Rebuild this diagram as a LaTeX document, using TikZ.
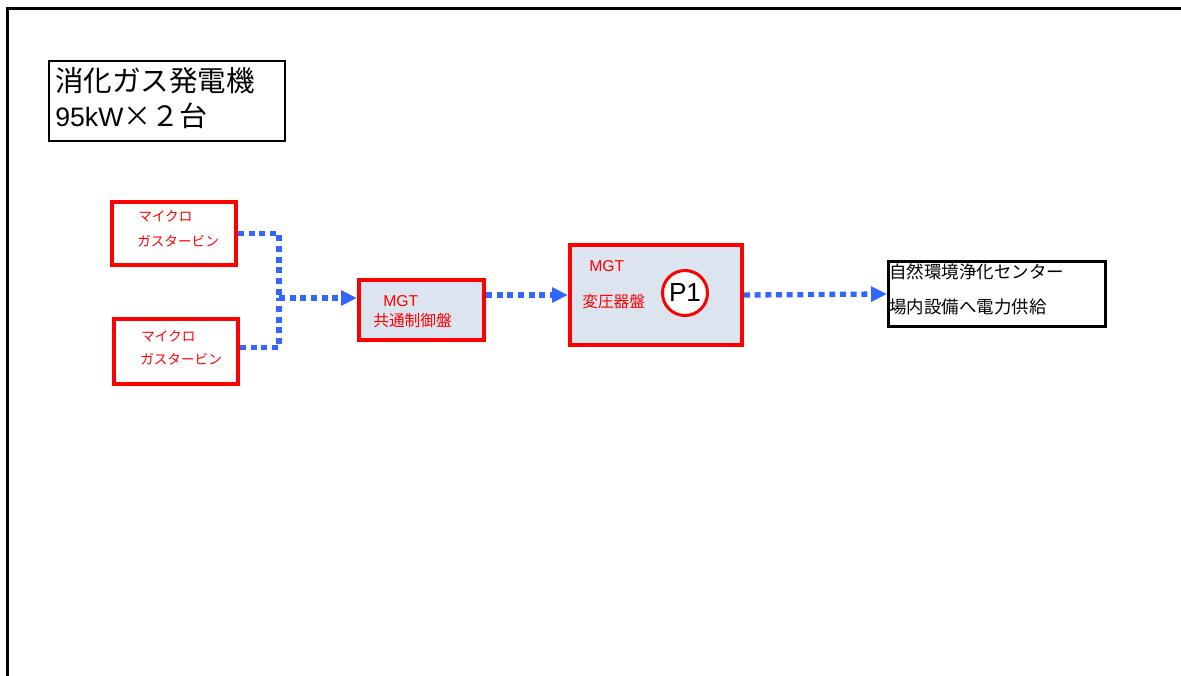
\documentclass[tikz,border=0pt]{standalone}
\usepackage{fontspec}
\setmainfont{Noto Sans CJK JP}
\newfontfamily\latinf{Liberation Sans}
\usetikzlibrary{arrows.meta}
\definecolor{flowblue}{RGB}{51,102,255}
\definecolor{panelfill}{RGB}{220,228,240}
\definecolor{pred}{RGB}{255,0,0}
\begin{document}
\begin{tikzpicture}[x=0.75pt,y=-0.75pt,
  redbox/.style={draw=pred, line width=3pt, inner sep=0pt},
  blackbox/.style={draw=black, inner sep=0pt},
  txt/.style={anchor=west, inner sep=0pt, font=#1},
  flow/.style={draw=flowblue, line width=4pt, dash pattern=on 4.5pt off 3.5pt},
  flowarrow/.style={flow, -{Triangle[length=12pt,width=11pt]}}
]
\useasboundingbox (0,0) rectangle (1181,675);
% outer frame (open at right and bottom)
\draw[line width=2.25pt] (7.5,680) -- (7.5,8.5) -- (1190,8.5);

% title
\node[blackbox, line width=1.5pt, minimum width=177pt, minimum height=60pt] (title) at (167,101) {};
\node[txt={\fontsize{21.4pt}{25pt}\selectfont}] (t1) at (55,81) {消化ガス発電機};
\node[txt={\fontsize{21pt}{25pt}\selectfont}] (t2) at (55,116) {{\latinf\fontsize{20pt}{24pt}\selectfont 95kW}×２台};

% gas turbines
\node[redbox, minimum width=93pt, minimum height=47.25pt] (gt1) at (174,233.5) {};
\node[txt={\fontsize{10.2pt}{12pt}\selectfont}, text=pred] (gt1a) at (138,216) {マイクロ};
\node[txt={\fontsize{10.2pt}{12pt}\selectfont}, text=pred] (gt1b) at (137,241) {ガスタービン};

\node[redbox, minimum width=93pt, minimum height=48.75pt] (gt2) at (176,351.5) {};
\node[txt={\fontsize{10.2pt}{12pt}\selectfont}, text=pred] (gt2a) at (141,336) {マイクロ};
\node[txt={\fontsize{10.2pt}{12pt}\selectfont}, text=pred] (gt2b) at (140,359) {ガスタービン};

% MGT common control panel
\node[redbox, fill=panelfill, minimum width=93.75pt, minimum height=45pt] (mgt) at (421.5,310) {};
\node[txt={\latinf\fontsize{11.8pt}{14pt}\selectfont}, text=pred] (mgta) at (383,301) {MGT};
\node[txt={\fontsize{11.8pt}{14pt}\selectfont}, text=pred] (mgtb) at (373,321) {共通制御盤};

% MGT transformer panel
\node[redbox, fill=panelfill, minimum width=129pt, minimum height=75pt] (trans) at (656,295) {};
\node[txt={\latinf\fontsize{11.8pt}{14pt}\selectfont}, text=pred] (transa) at (589,266) {MGT};
\node[txt={\fontsize{11.8pt}{14pt}\selectfont}, text=pred] (transb) at (582,302) {変圧器盤};
\node[circle, draw=pred, fill=white, line width=2.25pt, minimum size=33.75pt, inner sep=0pt,
      font=\latinf\fontsize{19.6pt}{24pt}\selectfont] (p1) at (685,293) {P1};

% destination
\node[blackbox, line width=2.25pt, minimum width=162.75pt, minimum height=48.75pt] (dest) at (997,294) {};
\node[txt={\fontsize{13.1pt}{16pt}\selectfont}] (desta) at (889,272) {自然環境浄化センター};
\node[txt={\fontsize{13.1pt}{16pt}\selectfont}] (destb) at (889,307) {場内設備へ電力供給};

% connectors
\coordinate (j) at (279,298);
\draw[flow] (gt1.east) -| (j);
\draw[flow] ([yshift=3pt]gt2.east) -| (j);
\draw[flowarrow] (j) -- (j -| mgt.west);
\draw[flowarrow] (trans.west -| mgt.east) -- (trans.west);
\draw[flowarrow] (trans.east) -- (dest.west);
\end{tikzpicture}
\end{document}
